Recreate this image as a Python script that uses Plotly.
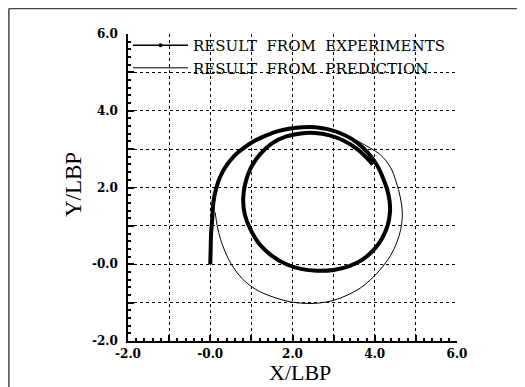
import plotly.graph_objects as go

exp_x = [0.0, 0.01, 0.02, 0.05, 0.08, 0.15, 0.25, 0.40, 0.58, 0.80, 1.05, 1.35, 1.65, 1.95, 2.25,
         2.55, 2.85, 3.15, 3.45, 3.70, 3.90, 4.07, 4.20, 4.30, 4.36, 4.37, 4.31, 4.18, 3.98, 3.70,
         3.38, 3.00, 2.60, 2.20, 1.85, 1.50, 1.20, 0.98, 0.84, 0.80, 0.85, 0.98, 1.20, 1.50, 1.85,
         2.20, 2.55, 2.90, 3.25, 3.55, 3.80, 3.95]
exp_y = [0.0, 0.40, 0.80, 1.20, 1.65, 2.00, 2.30, 2.58, 2.82, 3.02, 3.20, 3.35, 3.47, 3.54, 3.57,
         3.57, 3.52, 3.42, 3.26, 3.05, 2.82, 2.55, 2.25, 1.95, 1.65, 1.35, 1.00, 0.68, 0.38, 0.12,
         -0.05, -0.15, -0.17, -0.12, 0.00, 0.22, 0.52, 0.90, 1.30, 1.70, 2.10, 2.50, 2.85, 3.15, 3.33,
         3.41, 3.42, 3.36, 3.22, 3.02, 2.78, 2.60]

# Prediction trajectory
pred_x = [0.0, 0.01, 0.04, 0.09, 0.16, 0.27, 0.42, 0.60, 0.82, 1.08, 1.38, 1.70, 2.00, 2.30, 2.60,
          2.90, 3.25, 3.60, 3.90, 4.14, 4.38, 4.52, 4.62, 4.67, 4.63, 4.53, 4.38, 4.20, 3.95, 3.65,
          3.30, 3.00, 2.65, 2.30, 1.95, 1.60, 1.22, 1.00, 0.80, 0.64, 0.49, 0.36, 0.25, 0.17, 0.12]
pred_y = [0.0, 0.50, 1.00, 1.50, 1.95, 2.30, 2.60, 2.85, 3.05, 3.22, 3.36, 3.47, 3.54, 3.57, 3.56,
          3.50, 3.37, 3.20, 3.02, 2.85, 2.53, 2.15, 1.75, 1.33, 0.90, 0.55, 0.22, -0.05, -0.35, -0.62,
          -0.82, -0.94, -1.01, -1.02, -0.98, -0.88, -0.72, -0.58, -0.40, -0.20, 0.04, 0.33, 0.65, 1.00, 1.35]

tick_vals = [-2, -1, 0, 1, 2, 3, 4, 5, 6]
tick_text = ["-2.0", "", "-0.0", "", "2.0", "", "4.0", "", "6.0"]

serif = "Liberation Serif"
tickserif = "DejaVu Serif"
NB = "\u00a0"

fig = go.Figure()
fig.add_trace(go.Scatter(x=pred_x, y=pred_y, mode="lines", line=dict(color="black", width=1, shape="spline"),
                         showlegend=False))
fig.add_trace(go.Scatter(x=exp_x, y=exp_y, mode="lines", line=dict(color="black", width=4, shape="spline"),
                         showlegend=False))
# legend entries
fig.add_trace(go.Scatter(x=[None], y=[None], mode="lines+markers",
                         name="RESULT" + NB * 2 + "FROM" + NB * 2 + "EXPERIMENTS",
                         line=dict(color="black", width=1.5), marker=dict(color="black", size=4)))
fig.add_trace(go.Scatter(x=[None], y=[None], mode="lines",
                         name="RESULT" + NB * 2 + "FROM" + NB * 2 + "PREDICTION",
                         line=dict(color="black", width=1)))

axis_common = dict(
    range=[-2, 6], tickvals=tick_vals, ticktext=tick_text,
    showgrid=True, gridcolor="black", griddash="dot", gridwidth=1,
    showline=True, linecolor="black", linewidth=1.5, mirror=False,
    ticks="inside", ticklen=6, tickcolor="black", tickwidth=1.5,
    minor=dict(dtick=0.2, ticks="inside", ticklen=3, tickcolor="black", showgrid=False),
    tickfont=dict(family=tickserif, size=12, color="black", weight="bold"),
    zeroline=False, automargin=False,
)

fig.update_xaxes(**axis_common, ticklabelstandoff=1)
fig.update_yaxes(**axis_common, ticklabelstandoff=6)

# page body has an 8px margin, so the figure is sized and offset to compensate
fig.update_layout(
    width=517, height=379,
    margin=dict(l=120, r=68, t=26, b=46),
    paper_bgcolor="white", plot_bgcolor="white",
    legend=dict(x=0.0, y=1.016, xanchor="left", yanchor="top", bgcolor="rgba(0,0,0,0)",
                font=dict(family=tickserif, size=15, color="black"), itemwidth=55,
                tracegroupgap=0),
    annotations=[
        dict(text="X/LBP", xref="paper", yref="paper", x=0.523, y=-0.055, xanchor="center", yanchor="top",
             showarrow=False, font=dict(family=serif, size=22, color="black")),
        dict(text="Y/LBP", xref="paper", yref="paper", x=-0.167, y=0.508, xanchor="center", yanchor="middle",
             textangle=-90, showarrow=False, font=dict(family=serif, size=23, color="black")),
    ],
    shapes=[
        dict(type="line", xref="paper", yref="paper", x0=-0.362, x1=1.21, y0=1.083, y1=1.083,
             line=dict(color="#444444", width=1.5)),
        dict(type="line", xref="paper", yref="paper", x0=-0.362, x1=-0.362, y0=1.083, y1=-0.15,
             line=dict(color="#444444", width=1.5)),
    ],
)

fig.write_html("out.html")
